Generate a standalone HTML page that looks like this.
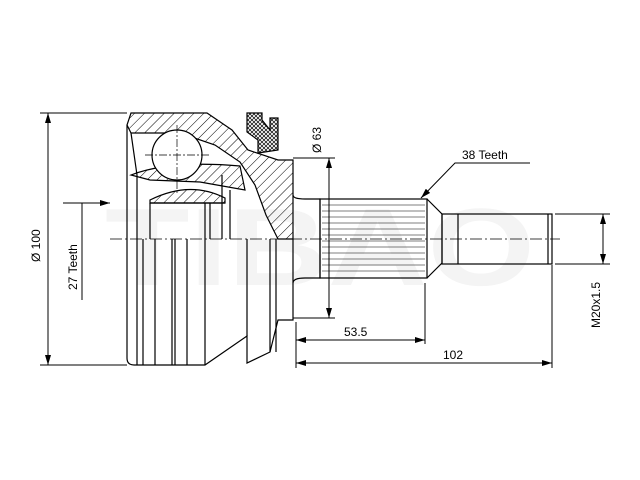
<!DOCTYPE html>
<html><head><style>html,body{margin:0;padding:0;background:#fff;width:640px;height:480px;overflow:hidden}</style></head>
<body>
<svg width="640" height="480" viewBox="0 0 640 480" xmlns="http://www.w3.org/2000/svg" font-family="Liberation Sans, Arial, sans-serif">
<defs>
<pattern id="h" patternUnits="userSpaceOnUse" width="7" height="7" patternTransform="rotate(45)"><line x1="0" y1="0" x2="0" y2="7" stroke="#000" stroke-width="1"/></pattern>
<pattern id="x" patternUnits="userSpaceOnUse" width="4" height="4"><path d="M0 0L4 4M4 0L0 4" stroke="#000" stroke-width="0.7"/></pattern>
<marker id="a" markerWidth="10" markerHeight="6" refX="10" refY="3" orient="auto" markerUnits="userSpaceOnUse"><path d="M0 0L10 3L0 6z" fill="#000"/></marker>
<marker id="b" markerWidth="10" markerHeight="6" refX="0" refY="3" orient="auto" markerUnits="userSpaceOnUse"><path d="M10 0L0 3L10 6z" fill="#000"/></marker>
</defs>
<g fill="#f4f4f4" font-size="110" font-weight="bold"><text x="105" y="285" textLength="430" lengthAdjust="spacingAndGlyphs">TIBAO</text></g>
<g fill="none" stroke="#000" stroke-width="1.2">
<path d="M131 113 L207 113 L232 130 L248 150 L278 160 L293 160 L293 239 L278 239 L266 215 L255 185 L240 162 L215 145 L180 133 L131 133 L127 125 Z" fill="url(#h)"/>
<path d="M131 175 Q170 160 240 166 L245 190 L200 182 L150 180 Z" fill="url(#h)"/>
<path d="M150 200 Q190 180 225 198 L225 203 L150 203 Z" fill="url(#h)"/>
<circle cx="177" cy="155" r="25" fill="#fff"/>
<path d="M247 113 L262 113 L262 120 L270 130 L270 118 L278 118 L278 150 L258 153 L258 140 L247 132 Z" fill="url(#x)"/>
<path d="M127 125 L127 358 Q127 365 134 365 L205 365 L247 336 L247 363 L270 352 L278 320 L293 320 L293 239"/>
<path d="M131 133 L137 175 L137 365 M150 203 L150 239 M143 239 L143 365 M155 239 L155 365 M172 239 L172 365 M175 239 L175 365 M187 239 L187 365 M205 203 L205 365 M210 203 L210 239 M222 175 L222 239 M230 190 L230 239 M247 239 L247 336 M270 239 L270 352 M276 239 L276 352"/>
<line x1="150" y1="203" x2="225" y2="203"/>
<path d="M293 195 Q293 199 305 199 L320 199 L320 278 L305 278 Q293 278 293 283"/>
<rect x="320" y="199" width="107" height="79"/>
<path d="M427 199 L442 214 L442 263 L427 278"/>
<rect x="442" y="214" width="110" height="50"/>
<path d="M458 214 L458 264 M548 214 L548 264"/>
</g>
<g stroke="#000" stroke-width="0.6">
<path d="M322 205H425M322 211H425M322 217H425M322 223H425M322 229H425M322 235H425M322 241H425M322 247H425M322 253H425M322 259H425M322 265H425M322 271H425"/>
</g>
<line x1="110" y1="239" x2="560" y2="239" stroke="#000" stroke-width="0.7" stroke-dasharray="12,3,2,3"/>
<line x1="177" y1="125" x2="177" y2="195" stroke="#000" stroke-width="0.7" stroke-dasharray="8,2,2,2"/>
<line x1="145" y1="155" x2="210" y2="155" stroke="#000" stroke-width="0.7" stroke-dasharray="8,2,2,2"/>
<g stroke="#000" stroke-width="1" fill="none">
<line x1="40" y1="113" x2="127" y2="113"/><line x1="40" y1="365" x2="127" y2="365"/>
<line x1="48" y1="113" x2="48" y2="365" marker-start="url(#b)" marker-end="url(#a)"/>
<line x1="63" y1="203" x2="110" y2="203" marker-end="url(#a)"/>
<line x1="82" y1="203" x2="82" y2="300"/>
<line x1="293" y1="158" x2="335" y2="158"/><line x1="293" y1="318" x2="335" y2="318"/>
<line x1="329" y1="158" x2="329" y2="318" marker-start="url(#b)" marker-end="url(#a)"/>
<line x1="296" y1="322" x2="296" y2="368"/>
<line x1="425" y1="283" x2="425" y2="344"/>
<line x1="296" y1="340" x2="425" y2="340" marker-start="url(#b)" marker-end="url(#a)"/>
<line x1="552" y1="265" x2="552" y2="368"/>
<line x1="296" y1="363" x2="552" y2="363" marker-start="url(#b)" marker-end="url(#a)"/>
<line x1="555" y1="214" x2="610" y2="214"/><line x1="555" y1="264" x2="610" y2="264"/>
<line x1="603" y1="214" x2="603" y2="264" marker-start="url(#b)" marker-end="url(#a)"/>
<polyline points="530,163 455,163 421,198" marker-end="url(#a)"/>
</g>
<g font-size="12" fill="#000">
<text x="462" y="159">38 Teeth</text>
<text x="344" y="336">53.5</text>
<text x="443" y="359">102</text>
<text transform="translate(600,328) rotate(-90)">M20x1.5</text>
<text transform="translate(321,153) rotate(-90)">Ø 63</text>
<text transform="translate(40,262) rotate(-90)">Ø 100</text>
<text transform="translate(77,290) rotate(-90)">27 Teeth</text>
</g>
</svg>
</body></html>
